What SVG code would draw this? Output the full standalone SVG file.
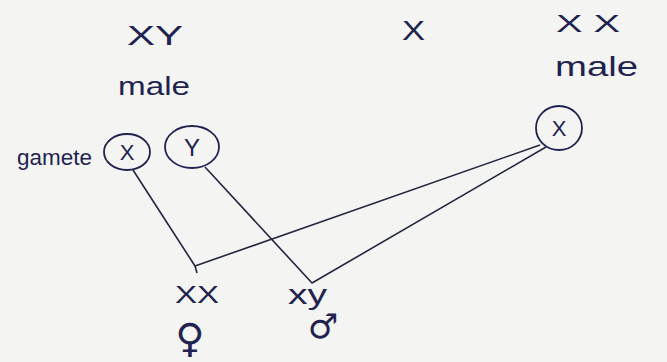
<svg xmlns="http://www.w3.org/2000/svg" width="667" height="362" viewBox="0 0 667 362">
<style>
.t{font-family:"Liberation Sans","DejaVu Sans",sans-serif;fill:#1f2350}
.s{font-family:"DejaVu Sans",sans-serif;fill:#1f2350}
.c{fill:none;stroke:#1f2350;stroke-width:1.8}
.l{fill:none;stroke:#22263f;stroke-width:1.6;stroke-linejoin:round}
</style>
<rect width="667" height="362" fill="#f4f4f2"/>
<g id="parent-male-xy">
<text class="t" x="127" y="45" font-size="27" textLength="56" lengthAdjust="spacingAndGlyphs">XY</text>
<text class="t" x="118" y="95" font-size="26" textLength="72" lengthAdjust="spacingAndGlyphs">male</text>
</g>
<g id="cross-x"><text class="t" x="402" y="40" font-size="28" textLength="23" lengthAdjust="spacingAndGlyphs">X</text></g>
<g id="parent-male-xx">
<text class="t" x="556" y="32" font-size="24" textLength="64" lengthAdjust="spacingAndGlyphs">X X</text>
<text class="t" x="555" y="76" font-size="28" textLength="83" lengthAdjust="spacingAndGlyphs">male</text>
</g>
<g id="gamete-label"><text class="t" x="17" y="165" font-size="22" textLength="75" lengthAdjust="spacingAndGlyphs">gamete</text></g>
<g id="gamete-x1">
<ellipse class="c" cx="127" cy="152" rx="23" ry="18"/>
<text class="t" x="127" y="160" font-size="22" text-anchor="middle">X</text>
</g>
<g id="gamete-y">
<ellipse class="c" cx="192" cy="147" rx="27" ry="21"/>
<text class="t" x="192" y="156" font-size="24" text-anchor="middle">Y</text>
</g>
<g id="gamete-x2">
<ellipse class="c" cx="559" cy="128" rx="23" ry="22"/>
<text class="t" x="559" y="136" font-size="22" text-anchor="middle">X</text>
</g>
<g id="connectors">
<polyline class="l" points="133,170 195,266 540,145"/>
<line class="l" x1="195" y1="266" x2="197" y2="273"/>
<polyline class="l" points="205,167 312,283 546,147"/>
</g>
<g id="offspring-female">
<text class="t" x="175" y="303" font-size="24" textLength="44" lengthAdjust="spacingAndGlyphs">XX</text>
<text class="s" x="190" y="352" font-size="40" text-anchor="middle">♀</text>
</g>
<g id="offspring-male">
<text class="t" x="288" y="304" font-size="28" textLength="39" lengthAdjust="spacingAndGlyphs">xy</text>
<text class="s" x="323" y="338" font-size="34" text-anchor="middle">♂</text>
</g>
</svg>
